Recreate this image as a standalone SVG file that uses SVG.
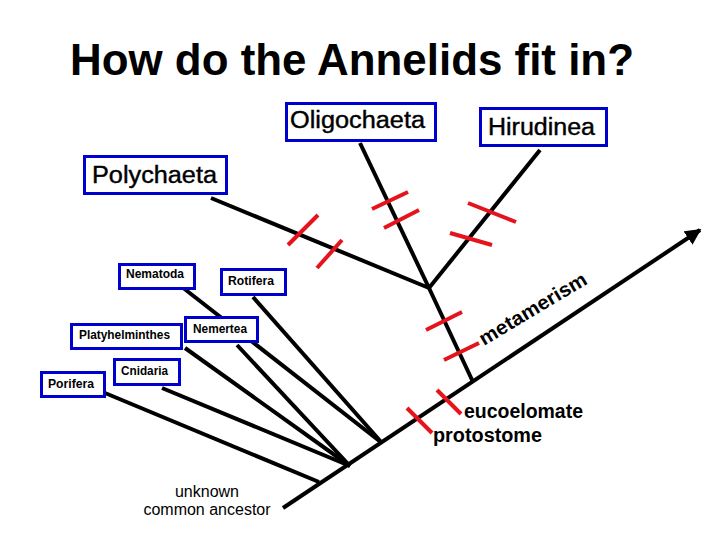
<svg xmlns="http://www.w3.org/2000/svg" width="720" height="540" viewBox="0 0 720 540">
<style>
.bg{fill:#ffffff}
.ln{stroke:#000;stroke-width:4;fill:none;stroke-linecap:butt}
.tk{stroke:#e5141c;stroke-width:4;fill:none}
.box{fill:#fff;stroke:#0000cc;stroke-width:3}
.big{font-family:"Liberation Sans",Arial,sans-serif;font-size:23px;fill:#000;stroke:#000;stroke-width:0.4}
.sm{font-family:"Liberation Sans",Arial,sans-serif;font-size:12px;font-weight:bold;fill:#000}
.lbl{font-family:"Liberation Sans",Arial,sans-serif;font-size:20px;font-weight:bold;fill:#000}
.reg{font-family:"Liberation Sans",Arial,sans-serif;font-size:16px;fill:#000}
.title{font-family:"Liberation Sans",Arial,sans-serif;font-size:44px;font-weight:bold;fill:#000}
</style>
<defs>
<marker id="ah" viewBox="0 0 10 10" refX="9" refY="5" markerWidth="4" markerHeight="4" orient="auto" markerUnits="strokeWidth">
<path d="M0,0 L10,5 L0,10 z" fill="#000"/>
</marker>
</defs>
<rect class="bg" x="0" y="0" width="720" height="540"/>
<text class="title" x="70" y="75" textLength="564" lengthAdjust="spacingAndGlyphs">How do the Annelids fit in?</text>

<g id="connectors">
<line class="ln" x1="283" y1="508" x2="700" y2="230" marker-end="url(#ah)"/>
<line class="ln" x1="105" y1="393" x2="319" y2="482"/>
<line class="ln" x1="162" y1="388" x2="350" y2="466"/>
<line class="ln" x1="185" y1="348" x2="350" y2="466"/>
<line class="ln" x1="237" y1="345" x2="350" y2="466"/>
<line class="ln" x1="182" y1="287" x2="382" y2="443"/>
<line class="ln" x1="253" y1="297" x2="382" y2="443"/>
<line class="ln" x1="473" y1="382" x2="429" y2="288"/>
<line class="ln" x1="429" y1="288" x2="211" y2="198"/>
<line class="ln" x1="429" y1="288" x2="360" y2="143"/>
<line class="ln" x1="429" y1="288" x2="540" y2="150"/>
</g>

<g id="ticks">
<line class="tk" x1="288" y1="245" x2="318" y2="215"/>
<line class="tk" x1="317" y1="268" x2="342" y2="240"/>
<line class="tk" x1="372" y1="209" x2="408" y2="192"/>
<line class="tk" x1="384" y1="228" x2="419" y2="210"/>
<line class="tk" x1="468" y1="203" x2="516" y2="222"/>
<line class="tk" x1="450" y1="233" x2="492" y2="245"/>
<line class="tk" x1="426" y1="330" x2="462" y2="312"/>
<line class="tk" x1="444" y1="360" x2="479" y2="343"/>
<line class="tk" x1="437" y1="390" x2="461" y2="414"/>
<line class="tk" x1="407" y1="408" x2="432" y2="433"/>
</g>

<g id="oligochaeta">
<rect class="box" x="286.5" y="103.5" width="149" height="37"/>
<text class="big" x="290" y="128" textLength="135" lengthAdjust="spacingAndGlyphs">Oligochaeta</text>
</g>
<g id="hirudinea">
<rect class="box" x="480.5" y="108.5" width="126" height="37"/>
<text class="big" x="488" y="135" textLength="107" lengthAdjust="spacingAndGlyphs">Hirudinea</text>
</g>
<g id="polychaeta">
<rect class="box" x="84.5" y="156.5" width="142" height="37"/>
<text class="big" x="92" y="183" textLength="125" lengthAdjust="spacingAndGlyphs">Polychaeta</text>
</g>
<g id="nematoda">
<rect class="box" x="119.5" y="264.5" width="75" height="24"/>
<text class="sm" x="126" y="278" textLength="58" lengthAdjust="spacingAndGlyphs">Nematoda</text>
</g>
<g id="rotifera">
<rect class="box" x="221.5" y="269.5" width="64" height="25"/>
<text class="sm" x="228" y="285" textLength="46" lengthAdjust="spacingAndGlyphs">Rotifera</text>
</g>
<g id="platyhelminthes">
<rect class="box" x="71.5" y="324.5" width="110" height="24"/>
<text class="sm" x="79" y="339" textLength="91" lengthAdjust="spacingAndGlyphs">Platyhelminthes</text>
</g>
<g id="nemertea">
<rect class="box" x="185.5" y="317.5" width="72" height="24"/>
<text class="sm" x="193" y="333" textLength="54" lengthAdjust="spacingAndGlyphs">Nemertea</text>
</g>
<g id="cnidaria">
<rect class="box" x="114.5" y="359.5" width="65" height="25"/>
<text class="sm" x="121" y="375" textLength="47" lengthAdjust="spacingAndGlyphs">Cnidaria</text>
</g>
<g id="porifera">
<rect class="box" x="41.5" y="372.5" width="63" height="24"/>
<text class="sm" x="48" y="388" textLength="46" lengthAdjust="spacingAndGlyphs">Porifera</text>
</g>

<g id="labels">
<text class="lbl" x="464" y="418" textLength="119" lengthAdjust="spacingAndGlyphs">eucoelomate</text>
<text class="lbl" x="433" y="442" textLength="109" lengthAdjust="spacingAndGlyphs">protostome</text>
<text class="lbl" transform="translate(484,346) rotate(-31)" x="0" y="0" font-size="22" textLength="122" lengthAdjust="spacingAndGlyphs">metamerism</text>
<text class="reg" x="207" y="497" text-anchor="middle">unknown</text>
<text class="reg" x="207" y="515" text-anchor="middle">common ancestor</text>
</g>
</svg>
